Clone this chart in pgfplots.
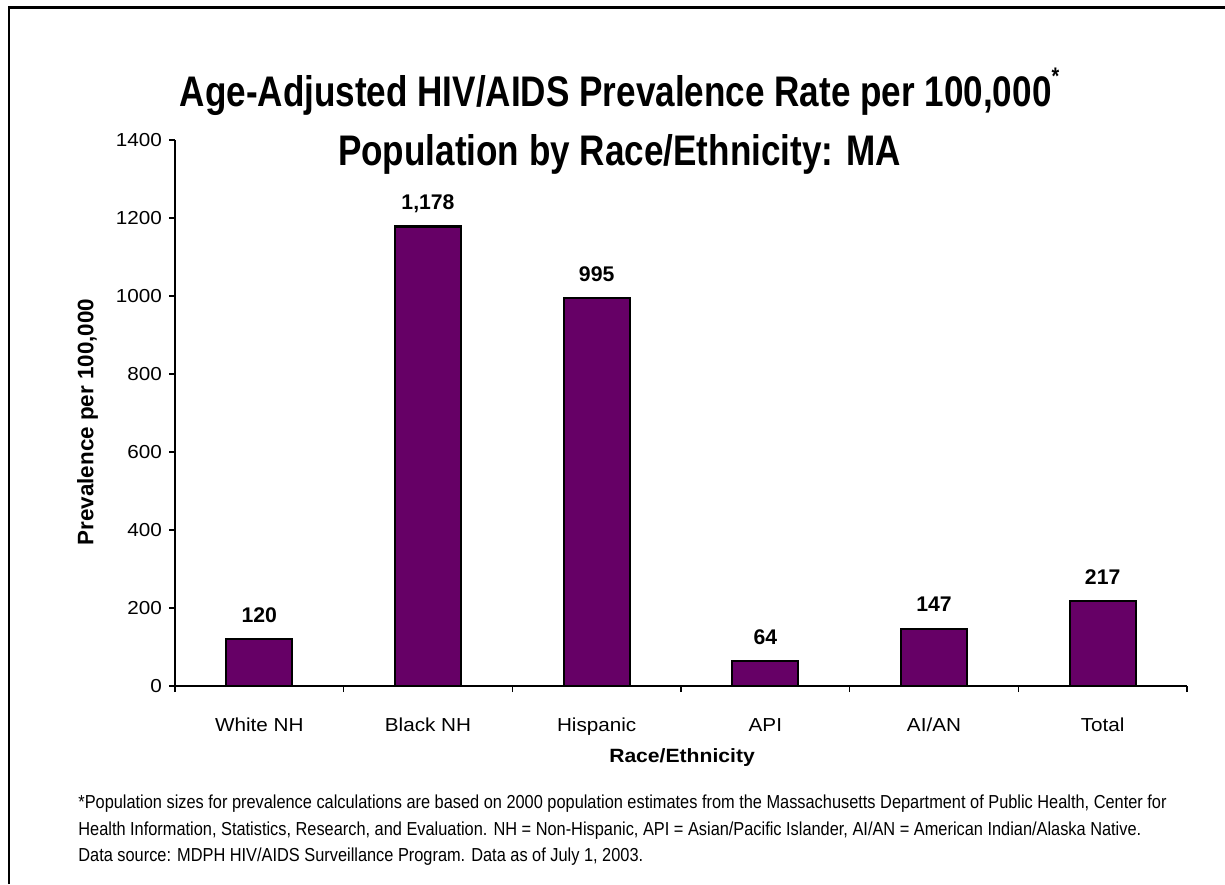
\documentclass[border=0pt]{standalone}
\usepackage{fontspec}
\setmainfont{Liberation Sans}
\newfontfamily\titlefont[FakeStretch=0.82]{Liberation Sans}
\newfontfamily\notefont[FakeStretch=0.87]{Liberation Sans}
\newfontfamily\widefont[FakeStretch=1.1]{Liberation Sans}
\usepackage{pgfplots}
\pgfplotsset{compat=1.18}
\definecolor{barpurple}{RGB}{102,0,102}

\begin{document}
\begin{tikzpicture}[x=0.5pt,y=0.5pt]
  \useasboundingbox (0,0) rectangle (1225,884);
  % frame (left and top only)
  \draw[line width=1.1pt] (8.7,0) -- (8.7,876.5) -- (1225,876.5);

  % title
  \node[anchor=base, inner sep=0, font={\titlefont\bfseries\fontsize{21.4}{24}\selectfont}]
    at (619.5,777) {Age-Adjusted HIV/AIDS Prevalence Rate per 100,000\raisebox{11.4pt}{\fontsize{12}{12}\selectfont *}};
  \node[anchor=base, inner sep=0, font={\titlefont\bfseries\fontsize{21.4}{24}\selectfont}]
    at (619.5,718) {Population by Race/Ethnicity: MA};

  \begin{axis}[
    at={(87.5pt,99pt)}, anchor=south west,
    scale only axis, width=506pt, height=273pt,
    xmin=0, xmax=6, ymin=0, ymax=1400,
    ybar, bar width=33pt,
    axis lines*=left, axis line style={-, line width=0.6pt},
    ytick={0,200,...,1400},
    xtick={0.5,1.5,...,5.5},
    xticklabels={White NH, Black NH, Hispanic, API, AI/AN, Total},
    minor xtick={0,1,...,6},
    tick align=outside,
    major tick length=3pt, minor tick length=3pt,
    major x tick style={draw=none},
    every tick/.style={black, line width=0.6pt},
    /pgf/number format/assume math mode=true,
    yticklabel style={/pgf/number format/1000 sep={}, font={\widefont\fontsize{9.4}{11}\selectfont}},
    xticklabel style={anchor=base, yshift=-19.5pt, font={\widefont\fontsize{9.4}{11}\selectfont}},
    xlabel={Race/Ethnicity},
    ylabel={Prevalence per 100,000},
    xlabel style={at={(axis description cs:0.501,-0.1405)}, anchor=base,
      font={\widefont\bfseries\fontsize{9.6}{11}\selectfont}},
    ylabel style={at={(axis description cs:-0.0865,0.4835)}, anchor=center,
      font={\bfseries\fontsize{11.2}{13}\selectfont}},
    nodes near coords,
    nodes near coords style={anchor=base, yshift=8.45pt,
      /pgf/number format/1000 sep={,},
      font={\bfseries\fontsize{10.6}{12}\selectfont}},
    clip=false,
  ]
    \addplot[fill=barpurple, draw=black, line width=1.1pt]
      coordinates {(0.5,120) (1.5,1178) (2.5,995) (3.5,64) (4.5,147) (5.5,217)};
  \end{axis}

  % footnote
  \begin{scope}[every node/.style={anchor=base west, inner sep=0,
      font={\notefont\fontsize{9.4}{11}\selectfont}}]
    \node at (78,76) {*Population sizes for prevalence calculations are based on 2000 population estimates from the Massachusetts Department of Public Health, Center for};
    \node at (78,49) {Health Information, Statistics, Research, and Evaluation. NH = Non-Hispanic, API = Asian/Pacific Islander, AI/AN = American Indian/Alaska Native.};
    \node at (78,22.3) {Data source: MDPH HIV/AIDS Surveillance Program. Data as of July 1, 2003.};
  \end{scope}
\end{tikzpicture}
\end{document}
